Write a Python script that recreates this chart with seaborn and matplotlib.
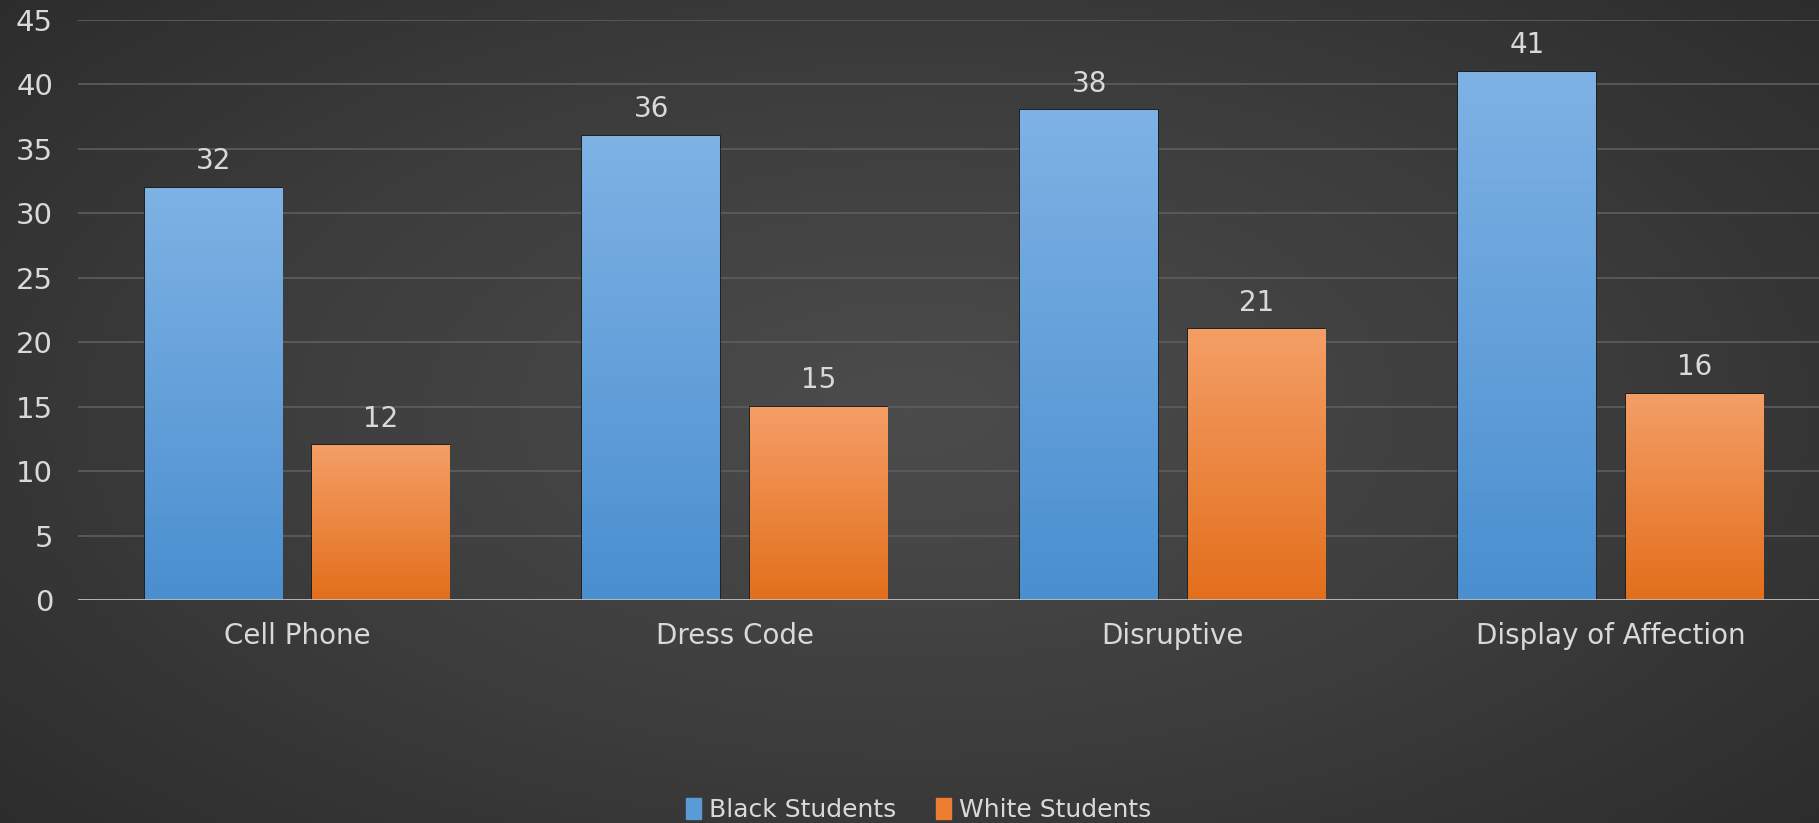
import numpy as np
import pandas as pd
import matplotlib.pyplot as plt
import matplotlib.colors as mcolors
import seaborn as sns

# Chart data
categories = ["Cell Phone", "Dress Code", "Disruptive", "Display of Affection"]
groups = ["Black Students", "White Students"]
black_students = [32, 36, 38, 41]
white_students = [12, 15, 21, 16]

df = pd.DataFrame({
    "category": categories * 2,
    "group": [groups[0]] * 4 + [groups[1]] * 4,
    "value": black_students + white_students,
})

sns.set_theme(style="dark")
plt.rcParams['font.family'] = ['DejaVu Sans']
text_col = "#d9d9d9"

fig = plt.figure(figsize=(18.19, 8.23), dpi=100)

# dark radial background
bg = fig.add_axes([0, 0, 1, 1], zorder=-10)
yy, xx = np.mgrid[0:1:300j, 0:1:600j]
r = np.sqrt(((xx - 0.5) / 0.8) ** 2 + ((yy - 0.5) / 0.9) ** 2)
bg_cmap = mcolors.LinearSegmentedColormap.from_list("bg", ["#4c4c4c", "#3d3d3d", "#2a2a2a"])
bg.imshow(r, cmap=bg_cmap, aspect="auto", extent=[0, 1, 0, 1], vmin=0, vmax=0.9)
bg.axis("off")

ax = fig.add_axes([0.0429, 0.271, 0.963, 0.7047])
ax.patch.set_alpha(0)

palette = {"Black Students": "#5b9bd5", "White Students": "#ed7d31"}
sns.barplot(data=df, x="category", y="value", hue="group", order=categories,
            hue_order=groups, palette=palette, width=0.765, gap=0.18,
            edgecolor="#1c1c1c", linewidth=1.2, saturation=1, ax=ax, zorder=3)

# vertical gradient inside each bar
grads = {
    "Black Students": ["#4a8fd0", "#7eb2e4"],
    "White Students": ["#e36f1c", "#f49e66"],
}
for cont, g in zip(ax.containers, groups):
    cm = mcolors.LinearSegmentedColormap.from_list(g, grads[g])
    for p in cont:
        x0, y0 = p.get_x(), p.get_y()
        w, h = p.get_width(), p.get_height()
        im = ax.imshow(np.linspace(0, 1, 100).reshape(-1, 1), cmap=cm, origin="lower",
                       extent=[x0, x0 + w, y0, y0 + h], aspect="auto", zorder=3.5)
        im.set_clip_path(p)
    ax.bar_label(cont, padding=9, color=text_col, fontsize=20)

ax.set_xlim(-0.5, 3.5)
ax.set_ylim(0, 45)
ax.set_yticks(range(0, 46, 5))
ax.yaxis.grid(True, color="#5e5e5e", linewidth=1.2, zorder=0)
ax.xaxis.grid(False)
ax.axhline(0, color="#bdbdbd", linewidth=2, zorder=5)
for s in ax.spines.values():
    s.set_visible(False)
ax.tick_params(axis="y", colors=text_col, labelsize=21, pad=18, length=0)
ax.tick_params(axis="x", colors=text_col, labelsize=20, pad=16, length=0)
ax.set_xlabel("")
ax.set_ylabel("")

ax.get_legend().remove()
handles = [plt.Rectangle((0, 0), 1, 1, color=palette[g]) for g in groups]
fig.legend(handles, groups, loc="lower center", bbox_to_anchor=(0.505, -0.026), ncol=2,
           frameon=False, fontsize=18, labelcolor=text_col, handlelength=0.6,
           handleheight=0.9, handletextpad=0.3, columnspacing=1.6)

fig.savefig("out.png", dpi=100, facecolor="#333333")
